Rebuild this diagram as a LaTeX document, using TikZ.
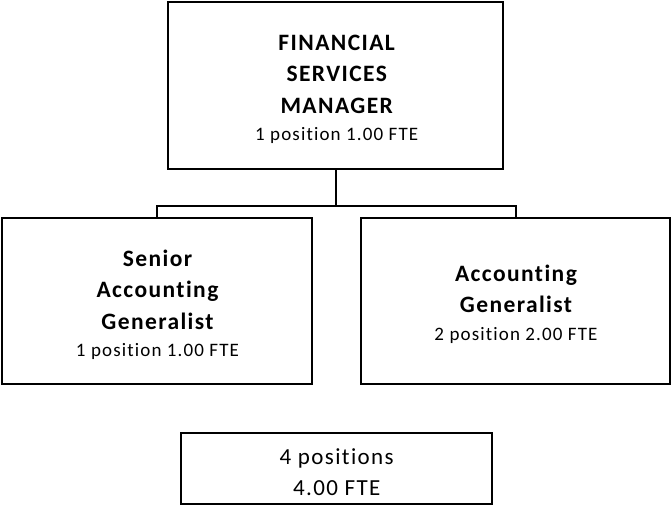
\documentclass[tikz,border=0pt]{standalone}
\usepackage{fontspec}
\setmainfont{Carlito}[LetterSpace=6, Ligatures=NoCommon]
\begin{document}
\begin{tikzpicture}[x=1pt,y=-1pt,
  box/.style={draw, line width=2pt, inner sep=0pt},
  link/.style={line width=2pt},
  txt/.style={align=center, inner sep=0pt, anchor=base},
  headfont/.style={font=\fontsize{23.5}{31.6}\selectfont\bfseries},
  totfont/.style={font=\fontsize{23}{31}\selectfont}]
\newcommand\posline[1]{{\fontsize{19}{27.4}\selectfont\mdseries #1}}
\useasboundingbox (0,0) rectangle (671,505);

% boxes
\node[box, minimum width=335pt, minimum height=167pt] (mgr) at (335.8,86) {};
\node[box, minimum width=310pt, minimum height=166pt] (sag) at (157,301) {};
\node[box, minimum width=309pt, minimum height=166pt] (ag) at (515.5,301) {};
\node[box, minimum width=311pt, minimum height=71.6pt] (tot) at (336.2,468.5) {};

% reporting lines
\coordinate (bus) at (335.8,205.7);
\draw[link] (mgr.south) -- (bus);
\draw[link] (sag.north) |- (bus) -| (ag.north);

% labels (anchored at the baseline of their last line)
\node[txt, headfont] (mgrT) at (336.7,140.7) {FINANCIAL\\SERVICES\\MANAGER\\[-4.2pt]\posline{1 position 1.00 FTE}};
\node[txt, headfont] (sagT) at (157.5,356.7) {Senior\\Accounting\\Generalist\\[-4.2pt]\posline{1 position 1.00 FTE}};
\node[txt, headfont] (agT) at (516,340) {Accounting\\Generalist\\[-4.2pt]\posline{2 position 2.00 FTE}};
\node[txt, totfont] (totT) at (336.7,495) {4 positions\\4.00 FTE};
\end{tikzpicture}
\end{document}
